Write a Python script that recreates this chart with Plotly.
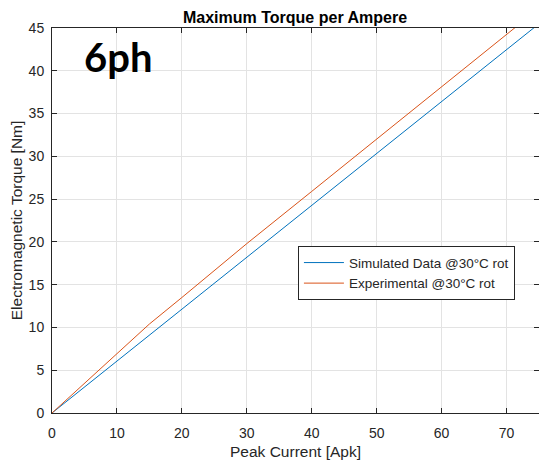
import plotly.graph_objects as go

# Data
sim_current = [0, 5, 10, 15, 20, 25, 30, 35, 40, 45, 50, 55, 60, 65, 70, 75]
sim_torque = [0, 3.03, 6.07, 9.1, 12.15, 15.2, 18.2, 21.25, 24.3, 27.3, 30.35, 33.4, 36.4, 39.45, 42.5, 45.5]

exp_current = [0, 5, 10, 15, 20, 30, 40, 50, 60, 70, 75]
exp_torque = [0, 3.5, 7.0, 10.4, 13.5, 19.8, 25.9, 32.0, 38.1, 44.2, 47.3]

x_ticks = [0, 10, 20, 30, 40, 50, 60, 70]
y_ticks = [0, 5, 10, 15, 20, 25, 30, 35, 40, 45]

FONT = "Liberation Sans, Arial, sans-serif"
TXT = "#262626"

fig = go.Figure()
fig.add_trace(go.Scatter(x=sim_current, y=sim_torque, mode="lines",
                         name="Simulated Data @30°C rot",
                         line=dict(color="#0072BD", width=1)))
fig.add_trace(go.Scatter(x=exp_current, y=exp_torque, mode="lines",
                         name="Experimental @30°C rot",
                         line=dict(color="#D95319", width=1)))

axis_common = dict(
    showline=True, linecolor=TXT, linewidth=1, mirror="ticks",
    ticks="inside", ticklen=5, tickcolor=TXT, tickwidth=1,
    showgrid=True, gridcolor="#e3e3e3", gridwidth=1,
    zeroline=False, automargin=False,
    tickfont=dict(family=FONT, size=14, color=TXT),
)

fig.update_xaxes(range=[0, 75], tickvals=x_ticks, ticklabelstandoff=7,
                 title=dict(text="Peak Current [Apk]",
                            font=dict(family=FONT, size=15.5, color=TXT), standoff=6),
                 **axis_common)
fig.update_yaxes(range=[0, 45], tickvals=y_ticks, ticklabelstandoff=4,
                 title=dict(text="Electromagnetic Torque [Nm]",
                            font=dict(family=FONT, size=15.5, color=TXT), standoff=5),
                 **axis_common)

# The page body adds an 8px offset, so the figure is sized 8px smaller.
fig.update_layout(
    width=539, height=455,
    margin=dict(l=44, r=8, t=20, b=50),
    paper_bgcolor="white", plot_bgcolor="white",
    title=dict(text="<b>Maximum Torque per Ampere</b>", x=0.5325, xanchor="center",
               y=0.979, yanchor="middle",
               font=dict(family=FONT, size=16, color="black")),
    legend=dict(x=0.505, y=0.433, xanchor="left", yanchor="top",
                bgcolor="white", bordercolor=TXT, borderwidth=1,
                font=dict(family=FONT, size=13.5, color=TXT),
                tracegroupgap=0, itemwidth=40),
    showlegend=True,
)

fig.add_annotation(text="<b>6ph</b>", xref="paper", yref="paper",
                   x=0.062, y=0.993, xanchor="left", yanchor="top",
                   showarrow=False,
                   font=dict(family="Lato, Noto Sans, sans-serif", size=40, color="black"))

fig.write_html("out.html")
